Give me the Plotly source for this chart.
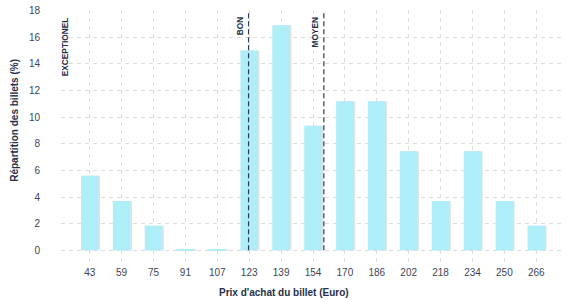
import plotly.graph_objects as go

categories = ["43", "59", "75", "91", "107", "123", "139", "154", "170", "186", "202", "218", "234", "250", "266"]
values = [5.6, 3.7, 1.85, 0.08, 0.08, 15.0, 16.9, 9.35, 11.2, 11.2, 7.45, 3.7, 7.45, 3.7, 1.85]
y_ticks = [0, 2, 4, 6, 8, 10, 12, 14, 16, 18]
markers = [("EXCEPTIONEL", -0.49, False), ("BON", 4.98, True), ("MOYEN", 7.34, True)]

TXT = "#24304a"
fig = go.Figure()
fig.add_trace(go.Bar(x=categories, y=values, width=0.55, offset=-0.275 + 0.05,
                     marker=dict(color="#e2e2e2", line=dict(width=0)), hoverinfo="skip"))
fig.add_trace(go.Bar(x=categories, y=values, width=0.55, offset=-0.275,
                     marker=dict(color="#adeef8", line=dict(width=0))))

for label, pos, show_line in markers:
    if show_line:
        fig.add_shape(type="line", xref="x", yref="y", x0=pos, x1=pos, y0=0, y1=18,
                      line=dict(color="#2b3a55", width=1.2, dash="5px,3px"))
    fig.add_annotation(x=pos, y=18, xref="x", yref="y", text="<b>" + label + "</b>", textangle=-90,
                       showarrow=False, xanchor="right", yanchor="top", xshift=-2, yshift=-5,
                       font=dict(family="Liberation Sans, Arial", size=8.3, color=TXT))

fig.add_annotation(text="<b>Prix d'achat du billet (Euro)</b>", showarrow=False,
                   xref="paper", yref="paper", x=(284 - 61) / 504, y=-(293 - 265) / 260,
                   xanchor="center", yanchor="middle",
                   font=dict(family="Liberation Sans, Arial", size=10, color=TXT))
fig.add_annotation(text="<b>Répartition des billets (%)</b>", textangle=-90, showarrow=False,
                   xref="paper", yref="paper", x=-(61 - 15) / 504, y=(265 - 118) / 260,
                   xanchor="center", yanchor="middle",
                   font=dict(family="Liberation Sans, Arial", size=10, color=TXT))

fig.update_layout(
    width=577, height=300,
    margin=dict(l=61, r=12, t=5, b=35),
    paper_bgcolor="white", plot_bgcolor="white",
    barmode="overlay", showlegend=False,
    font=dict(family="Liberation Sans, Arial", size=10, color=TXT),
    xaxis=dict(type="category", range=[-0.9, 14.9], showgrid=True, gridcolor="#dcdcdc",
               griddash="4px,4px", gridwidth=1, zeroline=False, showline=False,
               ticks="", tickfont=dict(size=10, color="#3a4658")),
    yaxis=dict(range=[-1.1, 18.05], tickvals=y_ticks, showgrid=True, gridcolor="#dcdcdc",
               griddash="4px,4px", gridwidth=1, zeroline=False, showline=False,
               ticks="outside", ticklen=18, tickcolor="rgba(0,0,0,0)",
               tickfont=dict(size=10, color="#3a4658")),
)

fig.write_html("out.html")
